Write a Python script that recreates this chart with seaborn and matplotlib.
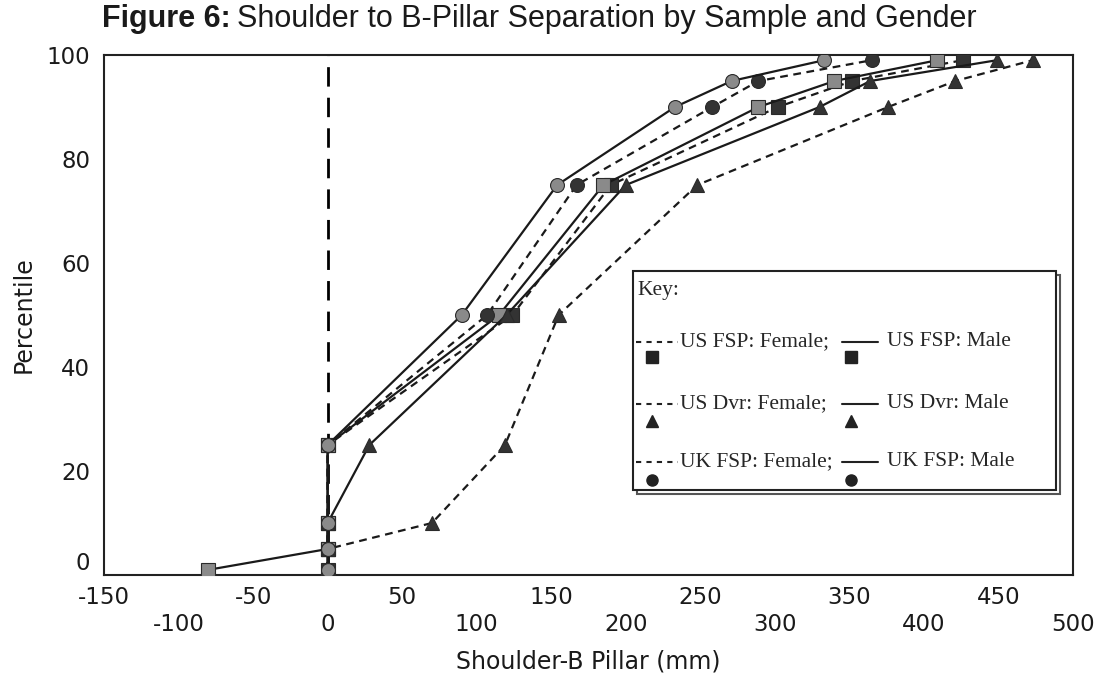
import matplotlib
matplotlib.use('Agg')
import matplotlib.pyplot as plt
import seaborn as sns
import pandas as pd
from matplotlib.lines import Line2D
from matplotlib.patches import Rectangle

# percentiles and shoulder to B-pillar distance (mm) per sample/gender
percentiles = [1, 5, 10, 25, 50, 75, 90, 95, 99]
us_fsp_female = [0, 0, 0, 0, 124, 190, 302, 352, 426]
us_fsp_male = [-80, 0, 0, 0, 115, 185, 289, 340, 409]
us_dvr_female = [0, 0, 70, 119, 155, 248, 376, 421, 473]
us_dvr_male = [0, 0, 0, 28, 120, 200, 330, 364, 449]
uk_fsp_female = [0, 0, 0, 0, 107, 167, 258, 289, 365]
uk_fsp_male = [0, 0, 0, 0, 90, 154, 233, 271, 333]

legend_rows = ["US FSP", "US Dvr", "UK FSP"]
xticks = list(range(-150, 501, 50))
yticks = [0, 20, 40, 60, 80, 100]

DASH = (0, (3.5, 2.5))
series = [
    (us_fsp_female, DASH, 's', '#333333'),
    (us_fsp_male, '-', 's', '#8a8a8a'),
    (us_dvr_female, DASH, '^', '#333333'),
    (us_dvr_male, '-', '^', '#333333'),
    (uk_fsp_female, DASH, 'o', '#333333'),
    (uk_fsp_male, '-', 'o', '#8a8a8a'),
]

sns.set_theme(style='white')
plt.rcParams['font.family'] = ['DejaVu Sans']

W, H = 1101, 682
fig, ax = plt.subplots(figsize=(W / 100, H / 100), dpi=100)
fig.subplots_adjust(left=104 / W, right=1073 / W, top=1 - 55 / H, bottom=1 - 575 / H)

ax.axvline(0, color='black', lw=2, linestyle=(0, (7, 4)), zorder=1)

for xs, ls, mk, fc in series:
    df = pd.DataFrame({'x': xs, 'p': percentiles})
    sns.lineplot(data=df, x='x', y='p', sort=False, estimator=None, ax=ax,
                 color='#1a1a1a', lw=1.6, linestyle=ls, marker=mk,
                 markersize=10, markerfacecolor=fc, markeredgecolor='#2a2a2a',
                 markeredgewidth=0.8, zorder=3)

ax.set_xlim(-150, 500)
ax.set_ylim(0, 100)
ax.set_xticks(xticks)
ax.set_xticklabels([str(t) if (t // 50) % 2 else "\n" + str(t) for t in xticks])
ax.set_yticks(yticks)
ax.set_yticklabels([str(t) for t in yticks])
ax.tick_params(axis='x', length=4, width=2, direction='out', pad=4,
               labelsize=16.5, color='#222222', labelcolor='#1a1a1a')
ax.tick_params(axis='y', length=4, width=2.5, direction='out', pad=6,
               labelsize=16.5, color='#222222', labelcolor='#1a1a1a')
# the "0" on the y axis sits just above the corner, as in the original
ax.get_yticklabels()[0].set_verticalalignment('bottom')
for sp in ax.spines.values():
    sp.set_visible(True)
    sp.set_color('#222222')
    sp.set_linewidth(1.5)

ax.set_xlabel("Shoulder-B Pillar (mm)", fontsize=17, labelpad=10, color='#1a1a1a')
ax.set_ylabel("Percentile", fontsize=17, labelpad=8, color='#1a1a1a')


def fx(px):
    return px / W


def fy(py):
    return 1 - py / H


# legend box ("Key")
serif = ['Liberation Serif', 'DejaVu Serif']
fig.add_artist(Rectangle((fx(637), fy(494)), fx(1060) - fx(637), fy(275) - fy(494),
                         transform=fig.transFigure, facecolor='none',
                         edgecolor='#555555', lw=1.5, zorder=4))
fig.add_artist(Rectangle((fx(633), fy(490)), fx(1056) - fx(633), fy(271) - fy(490),
                         transform=fig.transFigure, facecolor='white',
                         edgecolor='#222222', lw=1.5, zorder=5))
fig.text(fx(637), fy(290), "Key:", family=serif, fontsize=15.5, va='center', zorder=6)
row_y = [342, 404, 462]
mark_y = [357, 421, 480]
row_mk = ['s', '^', 'o']
for name, ty, my, mk in zip(legend_rows, row_y, mark_y, row_mk):
    fig.add_artist(Line2D([fx(636), fx(678)], [fy(ty), fy(ty)], transform=fig.transFigure,
                          color='#222222', lw=1.5, linestyle=(0, (2.5, 2.5)), zorder=6))
    fig.text(fx(680), fy(ty), name + ": Female;", family=serif, fontsize=15.5,
             va='center', zorder=6)
    fig.add_artist(Line2D([fx(842), fx(878)], [fy(ty), fy(ty)], transform=fig.transFigure,
                          color='#222222', lw=1.5, zorder=6))
    fig.text(fx(887), fy(ty), name + ": Male", family=serif, fontsize=15.5,
             va='center', zorder=6)
    for mx in (652, 851):
        fig.add_artist(Line2D([fx(mx)], [fy(my)], transform=fig.transFigure,
                              marker=mk, markersize=8, color='#222222', lw=0, zorder=6))

# title: bold lead-in followed by regular text
sans = ['Liberation Sans', 'DejaVu Sans']
t1 = fig.text(fx(102), fy(27), "Figure 6:", family=sans, fontsize=22,
              fontweight='bold', va='baseline', color='#1a1a1a')
fig.canvas.draw()
bb = t1.get_window_extent(renderer=fig.canvas.get_renderer())
fig.text(bb.x1 / W + 6 / W, fy(27), "Shoulder to B-Pillar Separation by Sample and Gender",
         family=sans, fontsize=22, va='baseline', color='#1a1a1a')

fig.savefig('out.png', dpi=100)
